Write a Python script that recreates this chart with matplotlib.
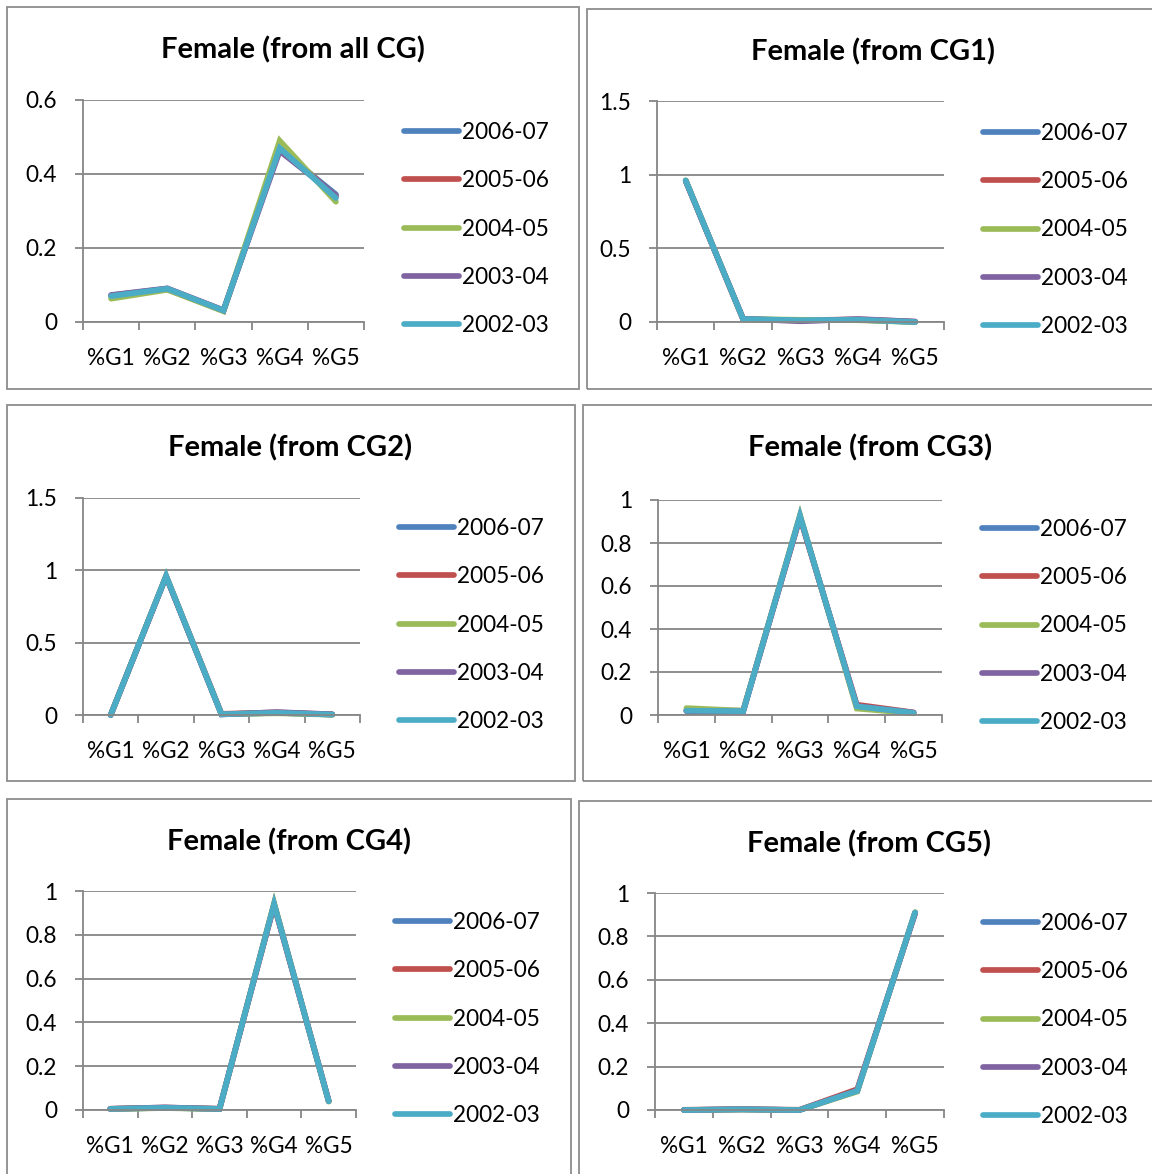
import matplotlib.pyplot as plt
from matplotlib.patches import Rectangle
from matplotlib.ticker import FormatStrFormatter
import numpy as np

plt.rcParams['font.family'] = ['Lato', 'DejaVu Sans']

W, H = 1152, 1174

groups = ['%G1', '%G2', '%G3', '%G4', '%G5']
years = ['2006-07', '2005-06', '2004-05', '2003-04', '2002-03']
colors = ['#4F81BD', '#C0504D', '#9BBB59', '#8064A2', '#4BACC6']

# share of female students landing in each grade, per source group
all_cg = {
    '2006-07': [0.072, 0.090, 0.031, 0.468, 0.345],
    '2005-06': [0.070, 0.089, 0.030, 0.475, 0.338],
    '2004-05': [0.063, 0.087, 0.029, 0.490, 0.325],
    '2003-04': [0.073, 0.091, 0.032, 0.462, 0.342],
    '2002-03': [0.070, 0.090, 0.031, 0.470, 0.335],
}
cg1 = {
    '2006-07': [0.960, 0.020, 0.010, 0.015, 0.000],
    '2005-06': [0.958, 0.018, 0.012, 0.018, 0.002],
    '2004-05': [0.962, 0.020, 0.015, 0.012, 0.000],
    '2003-04': [0.957, 0.022, 0.005, 0.020, 0.003],
    '2002-03': [0.960, 0.020, 0.012, 0.015, 0.000],
}
cg2 = {
    '2006-07': [0.000, 0.960, 0.005, 0.015, 0.003],
    '2005-06': [0.000, 0.958, 0.008, 0.018, 0.004],
    '2004-05': [0.000, 0.962, 0.006, 0.012, 0.002],
    '2003-04': [0.000, 0.957, 0.004, 0.020, 0.005],
    '2002-03': [0.000, 0.960, 0.005, 0.015, 0.003],
}
cg3 = {
    '2006-07': [0.020, 0.018, 0.925, 0.040, 0.010],
    '2005-06': [0.022, 0.020, 0.918, 0.048, 0.012],
    '2004-05': [0.032, 0.020, 0.930, 0.030, 0.008],
    '2003-04': [0.018, 0.016, 0.922, 0.042, 0.011],
    '2002-03': [0.020, 0.018, 0.925, 0.040, 0.010],
}
cg4 = {
    '2006-07': [0.005, 0.010, 0.005, 0.940, 0.040],
    '2005-06': [0.006, 0.011, 0.006, 0.935, 0.042],
    '2004-05': [0.004, 0.009, 0.004, 0.945, 0.038],
    '2003-04': [0.005, 0.012, 0.005, 0.938, 0.041],
    '2002-03': [0.005, 0.010, 0.005, 0.940, 0.040],
}
cg5 = {
    '2006-07': [0.000, 0.003, 0.000, 0.088, 0.910],
    '2005-06': [0.001, 0.004, 0.001, 0.096, 0.905],
    '2004-05': [0.000, 0.002, 0.000, 0.085, 0.912],
    '2003-04': [0.000, 0.003, 0.000, 0.090, 0.908],
    '2002-03': [0.000, 0.003, 0.000, 0.088, 0.910],
}

# (title, data, y ticks, frame box, plot box, legend anchor) -- boxes in pixels
panels = [
    ('Female (from all CG)', all_cg, [0, 0.2, 0.4, 0.6],
     (7, 7, 579, 389), (83, 100, 364, 322), (404, 229)),
    ('Female (from CG1)', cg1, [0, 0.5, 1, 1.5],
     (587, 9, 1160, 389), (657, 101, 944, 322), (983, 230)),
    ('Female (from CG2)', cg2, [0, 0.5, 1, 1.5],
     (7, 405, 575, 781), (83, 498, 360, 715), (399, 625)),
    ('Female (from CG3)', cg3, [0, 0.2, 0.4, 0.6, 0.8, 1],
     (583, 405, 1160, 781), (658, 500, 942, 715), (982, 626)),
    ('Female (from CG4)', cg4, [0, 0.2, 0.4, 0.6, 0.8, 1],
     (7, 799, 571, 1180), (83, 891, 356, 1110), (395, 1019)),
    ('Female (from CG5)', cg5, [0, 0.2, 0.4, 0.6, 0.8, 1],
     (579, 801, 1160, 1180), (655, 893, 944, 1110), (983, 1020)),
]

# visible centre of each title (the right-hand frames run off the page)
title_x = [293, 873, 290, 870, 289, 869]

fig = plt.figure(figsize=(W / 100, H / 100), dpi=100)
grid_col = '#868686'
fs = 16.3

for (title, data, yticks, frame, box, leg), tx in zip(panels, title_x):
    fx0, fy0, fx1, fy1 = frame
    fig.patches.append(Rectangle((fx0 / W, 1 - fy1 / H), (fx1 - fx0) / W, (fy1 - fy0) / H,
                                 transform=fig.transFigure, fill=False,
                                 edgecolor='#8C8C8C', linewidth=1.3))
    x0, y0, x1, y1 = box
    ax = fig.add_axes([x0 / W, 1 - y1 / H, (x1 - x0) / W, (y1 - y0) / H])

    x = np.arange(1, len(groups) + 1)
    for yr, c in zip(years, colors):
        ax.plot(x, data[yr], color=c, linewidth=4.1, solid_capstyle='round',
                solid_joinstyle='miter', label=yr, clip_on=False)

    ax.set_xlim(0.5, len(groups) + 0.5)
    ax.set_ylim(yticks[0], yticks[-1])
    ax.set_yticks(yticks)
    ax.yaxis.set_major_formatter(FormatStrFormatter('%g'))
    ax.yaxis.grid(True, color=grid_col, linewidth=1.3)
    ax.set_axisbelow(True)

    # category boundaries carry the tick marks, labels sit between them
    ax.set_xticks(np.arange(0.5, len(groups) + 1, 1))
    ax.set_xticklabels([])
    ax.set_xticks(x, minor=True)
    ax.set_xticklabels(groups, minor=True)
    ax.tick_params(axis='x', which='major', length=5.5, width=1.3, color=grid_col, direction='out')
    ax.tick_params(axis='x', which='minor', length=0, pad=19, labelsize=fs)
    ax.tick_params(axis='y', length=5.5, width=1.3, color=grid_col, direction='out',
                   pad=13, labelsize=fs)

    for side in ['top', 'right']:
        ax.spines[side].set_visible(False)
    for side in ['left', 'bottom']:
        ax.spines[side].set_color(grid_col)
        ax.spines[side].set_linewidth(1.3)

    fig.text(tx / W, 1 - (fy0 + 43) / H, title, ha='center', va='center',
             fontsize=21, fontweight='bold')

    ax.legend(loc='center left', bbox_to_anchor=(leg[0] / W, 1 - leg[1] / H),
              bbox_transform=fig.transFigure, frameon=False, fontsize=fs,
              handlelength=2.45, handletextpad=0.13, labelspacing=1.21,
              borderpad=0, borderaxespad=0)

plt.savefig('out.png', dpi=100)
